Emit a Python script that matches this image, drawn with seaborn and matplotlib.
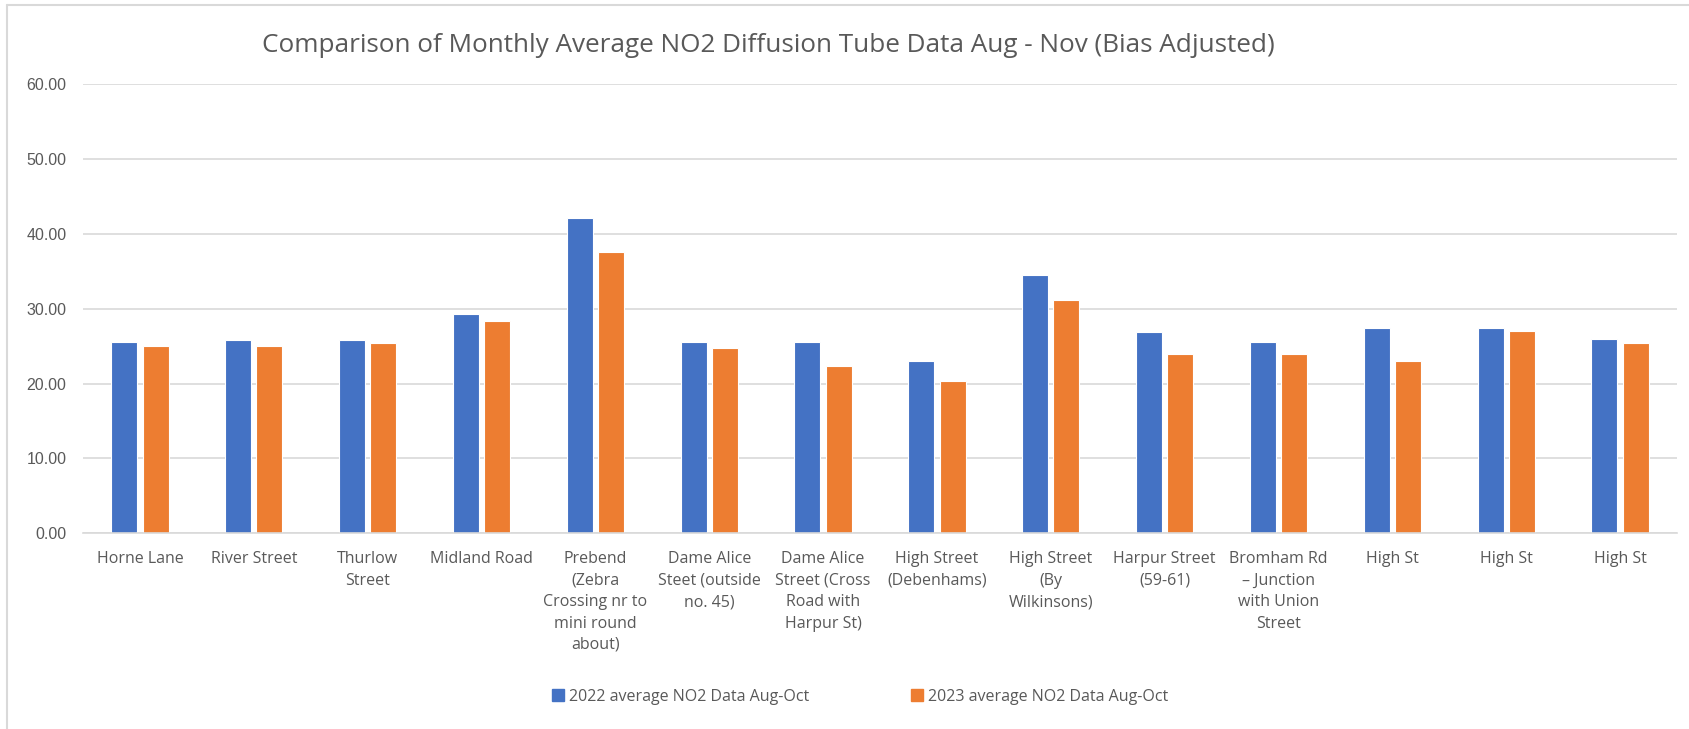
import seaborn as sns
import matplotlib.pyplot as plt
import pandas as pd
from matplotlib.lines import Line2D

# -- DATA -- #
sites = [
    "Horne Lane",
    "River Street",
    "Thurlow\nStreet",
    "Midland Road",
    "Prebend\n(Zebra\nCrossing nr to\nmini round\nabout)",
    "Dame Alice\nSteet (outside\nno. 45)",
    "Dame Alice\nStreet (Cross\nRoad with\nHarpur St)",
    "High Street\n(Debenhams)",
    "High Street\n(By\nWilkinsons)",
    "Harpur Street\n(59-61)",
    "Bromham Rd\n\u2013 Junction\nwith Union\nStreet",
    "High St",
    "High St",
    "High St",
]
no2_2022 = [25.6, 25.8, 25.8, 29.3, 42.1, 25.6, 25.6, 23.0, 34.5, 26.9, 25.6, 27.4, 27.5, 26.0]
no2_2023 = [25.0, 25.0, 25.4, 28.4, 37.6, 24.7, 22.3, 20.3, 31.2, 23.9, 24.0, 23.0, 27.1, 25.4]
series = ["2022 average NO2 Data Aug-Oct", "2023 average NO2 Data Aug-Oct"]
colors = ["#4472C4", "#ED7D31"]

# same site name appears more than once, so use position as the category key
df = pd.DataFrame({
    "site": list(range(len(sites))) * 2,
    "value": no2_2022 + no2_2023,
    "series": [series[0]] * len(sites) + [series[1]] * len(sites),
})

# -- VISUALIZATION -- #
sns.set_style('white')
plt.rcParams['font.family'] = ['Open Sans', 'DejaVu Sans']
text_col = '#595959'
grid_col = '#D9D9D9'

fig = plt.figure(figsize=(16.9, 7.29), dpi=100)
ax = fig.add_axes([83 / 1690, 1 - 533.3 / 729, (1677 - 83) / 1690, (533.3 - 84.3) / 729])

sns.barplot(data=df, x='site', y='value', hue='series', palette=colors,
            saturation=1, width=0.55, gap=0.17, edgecolor='white', linewidth=0.8,
            legend=False, ax=ax)

ax.set_ylim(0, 60)
ax.set_yticks(range(0, 61, 10))
ax.set_yticklabels([f'{v:.2f}' for v in range(0, 61, 10)],
                   fontfamily='Liberation Sans', fontsize=11.5, color=text_col)
ax.set_xticks(range(len(sites)))
ax.set_xticklabels(sites, fontsize=11.5, color=text_col, linespacing=1.45, va='top')
ax.tick_params(axis='both', length=0)
ax.tick_params(axis='x', pad=13)
ax.tick_params(axis='y', pad=12)
ax.set_xlabel('')
ax.set_ylabel('')

ax.yaxis.grid(True, color=grid_col, linewidth=1.2)
ax.set_axisbelow(True)
for s in ['top', 'right', 'left']:
    ax.spines[s].set_visible(False)
ax.spines['bottom'].set_color(grid_col)
ax.spines['bottom'].set_linewidth(1.2)

fig.text(768 / 1690, 1 - 45 / 729, 'Comparison of Monthly Average NO2 Diffusion Tube Data Aug - Nov (Bias Adjusted)',
         ha='center', va='center', fontsize=18.8, color=text_col)

handles = [Line2D([], [], marker='s', linestyle='', markersize=8, color=c) for c in colors]
fig.legend(handles, series, loc='center', bbox_to_anchor=(860 / 1690, 1 - 697 / 729),
           ncol=2, frameon=False, fontsize=11.5, labelcolor=text_col,
           handletextpad=0.3, columnspacing=6.3, handlelength=0.8)

# chart area border (top and left edges visible)
fig.add_artist(Line2D([7 / 1690, 7 / 1690], [0, 1 - 4.7 / 729], color=grid_col, linewidth=1.5))
fig.add_artist(Line2D([7 / 1690, 1], [1 - 4.7 / 729, 1 - 4.7 / 729], color=grid_col, linewidth=1.5))

plt.savefig('out.png', dpi=100)
